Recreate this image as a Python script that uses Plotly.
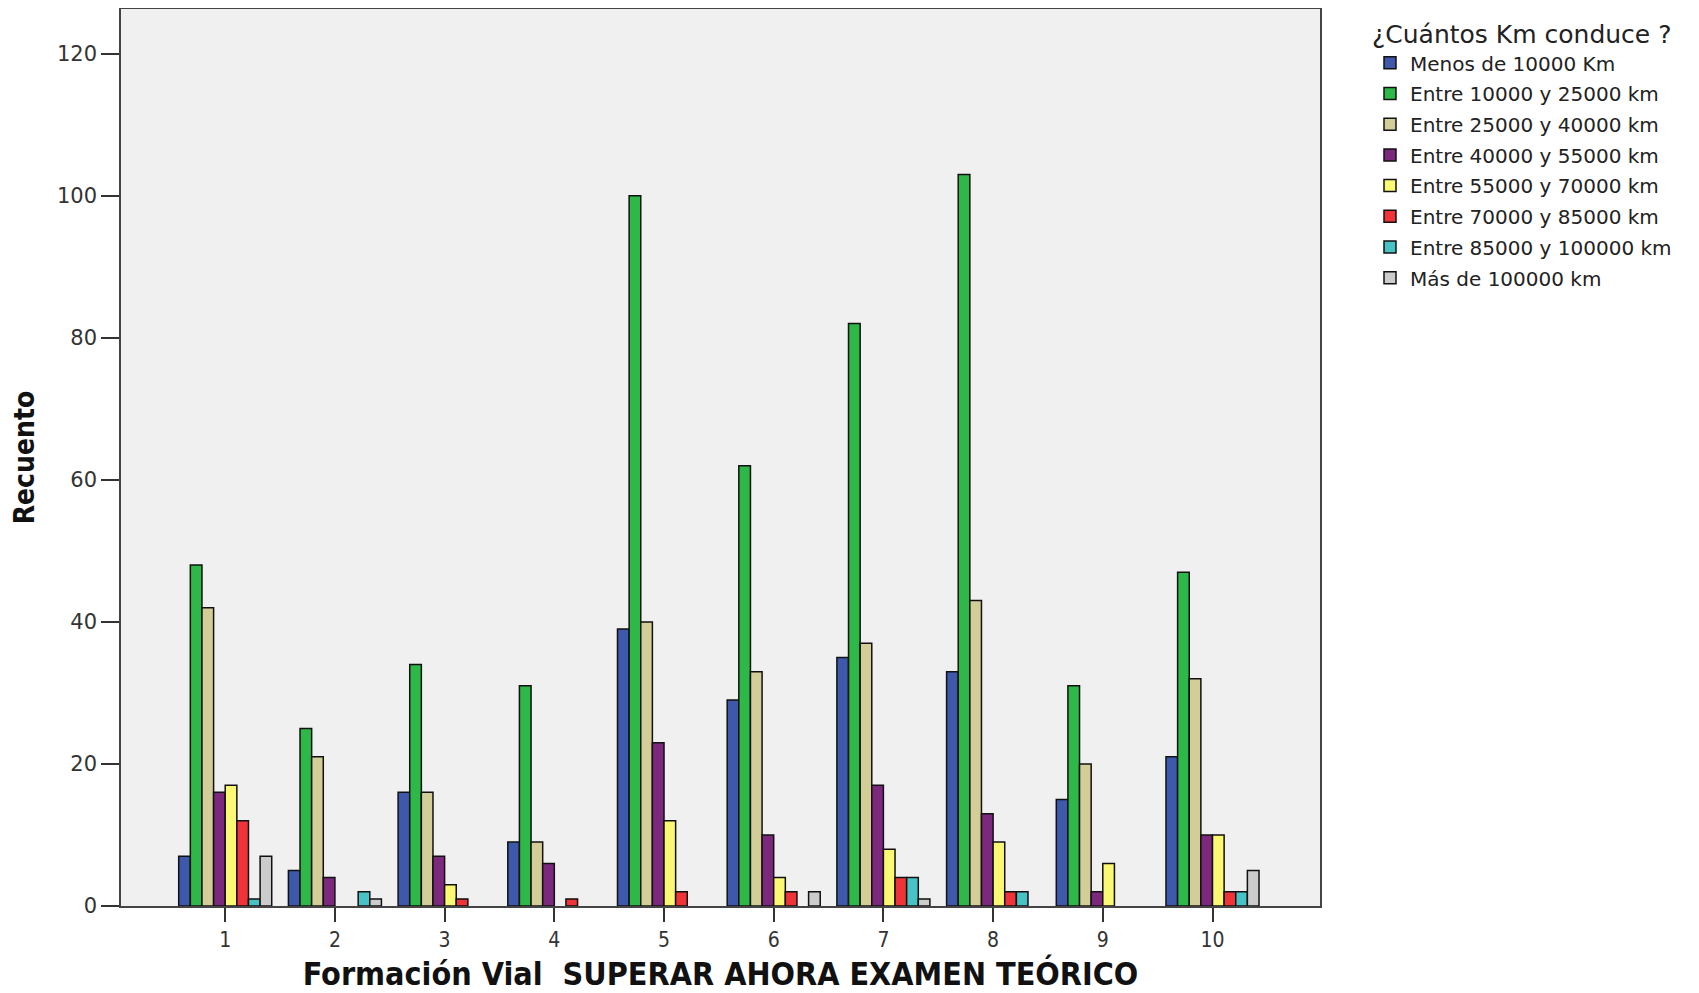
import plotly.graph_objects as go

categories = [1, 2, 3, 4, 5, 6, 7, 8, 9, 10]
series_names = [
    "Menos de 10000 Km",
    "Entre 10000 y 25000 km",
    "Entre 25000 y 40000 km",
    "Entre 40000 y 55000 km",
    "Entre 55000 y 70000 km",
    "Entre 70000 y 85000 km",
    "Entre 85000 y 100000 km",
    "Más de 100000 km",
]
menos_10000 = [7, 5, 16, 9, 39, 29, 35, 33, 15, 21]
entre_10_25 = [48, 25, 34, 31, 100, 62, 82, 103, 31, 47]
entre_25_40 = [42, 21, 16, 9, 40, 33, 37, 43, 20, 32]
entre_40_55 = [16, 4, 7, 6, 23, 10, 17, 13, 2, 10]
entre_55_70 = [17, 0, 3, 0, 12, 4, 8, 9, 6, 10]
entre_70_85 = [12, 0, 1, 1, 2, 2, 4, 2, 0, 2]
entre_85_100 = [1, 2, 0, 0, 0, 0, 4, 2, 0, 2]
mas_100000 = [7, 1, 0, 0, 0, 2, 1, 0, 0, 5]
series_values = [menos_10000, entre_10_25, entre_25_40, entre_40_55,
                 entre_55_70, entre_70_85, entre_85_100, mas_100000]
colors = ["#3E58AC", "#2EB848", "#D3CE97", "#7C287D",
          "#FBF873", "#EF3338", "#48C2C5", "#CCCCCC"]
y_ticks = [0, 20, 40, 60, 80, 100, 120]

fig = go.Figure()
for name, vals, col in zip(series_names, series_values, colors):
    # zero counts are not drawn (no flat outline)
    shown = [v if v != 0 else None for v in vals]
    fig.add_trace(go.Bar(
        x=categories, y=shown, name=name, legendgroup=name,
        marker=dict(color=col, line=dict(color="#111111", width=1.5)),
    ))

ytick_font = dict(family="DejaVu Sans, Liberation Sans, sans-serif", size=21, color="#333333")
xtick_font = dict(family="DejaVu Sans Condensed, Liberation Sans Narrow, Liberation Sans, sans-serif",
                  size=21, color="#333333")
title_font_x = dict(family="Liberation Sans Narrow, DejaVu Sans Condensed, Liberation Sans, sans-serif",
                    size=32, color="#111111", weight="bold")
title_font_y = dict(family="Liberation Sans Narrow, DejaVu Sans Condensed, Liberation Sans, sans-serif",
                    size=28, color="#111111", weight="bold")

fig.update_layout(
    width=1691, height=985,
    margin=dict(l=113, r=379, t=1, b=87, autoexpand=False),
    paper_bgcolor="white", plot_bgcolor="#F0F0F0",
    barmode="group", bargap=0.152, bargroupgap=0,
    showlegend=True,
    legend=dict(
        x=1.0417, xanchor="left", y=0.998, yanchor="top",
        title=dict(text="¿Cuántos Km conduce ?",
                   font=dict(family="DejaVu Sans, Liberation Sans, sans-serif", size=25, color="#222222")),
        font=dict(family="DejaVu Sans, Liberation Sans, sans-serif", size=20, color="#222222"),
        tracegroupgap=1.7, bgcolor="rgba(0,0,0,0)",
    ),
    xaxis=dict(
        range=[0.05, 10.98], tickmode="array", tickvals=categories,
        ticktext=[str(c) for c in categories],
        ticks="outside", ticklen=14, tickwidth=1.5, tickcolor="#333333",
        showline=True, linecolor="#444444", linewidth=1.5, mirror=True,
        showgrid=False, zeroline=False, tickfont=xtick_font,
        title=dict(text="Formación Vial  SUPERAR AHORA EXAMEN TEÓRICO", font=title_font_x, standoff=26),
    ),
    yaxis=dict(
        range=[0, 126.3], tickmode="array", tickvals=y_ticks,
        ticks="outside", ticklen=18, tickwidth=1.5, tickcolor="#333333",
        showline=True, linecolor="#444444", linewidth=1.5, mirror=True,
        showgrid=False, zeroline=False, tickfont=ytick_font,
        title=dict(text="Recuento", font=title_font_y, standoff=20),
    ),
)

fig.write_html("out.html")
